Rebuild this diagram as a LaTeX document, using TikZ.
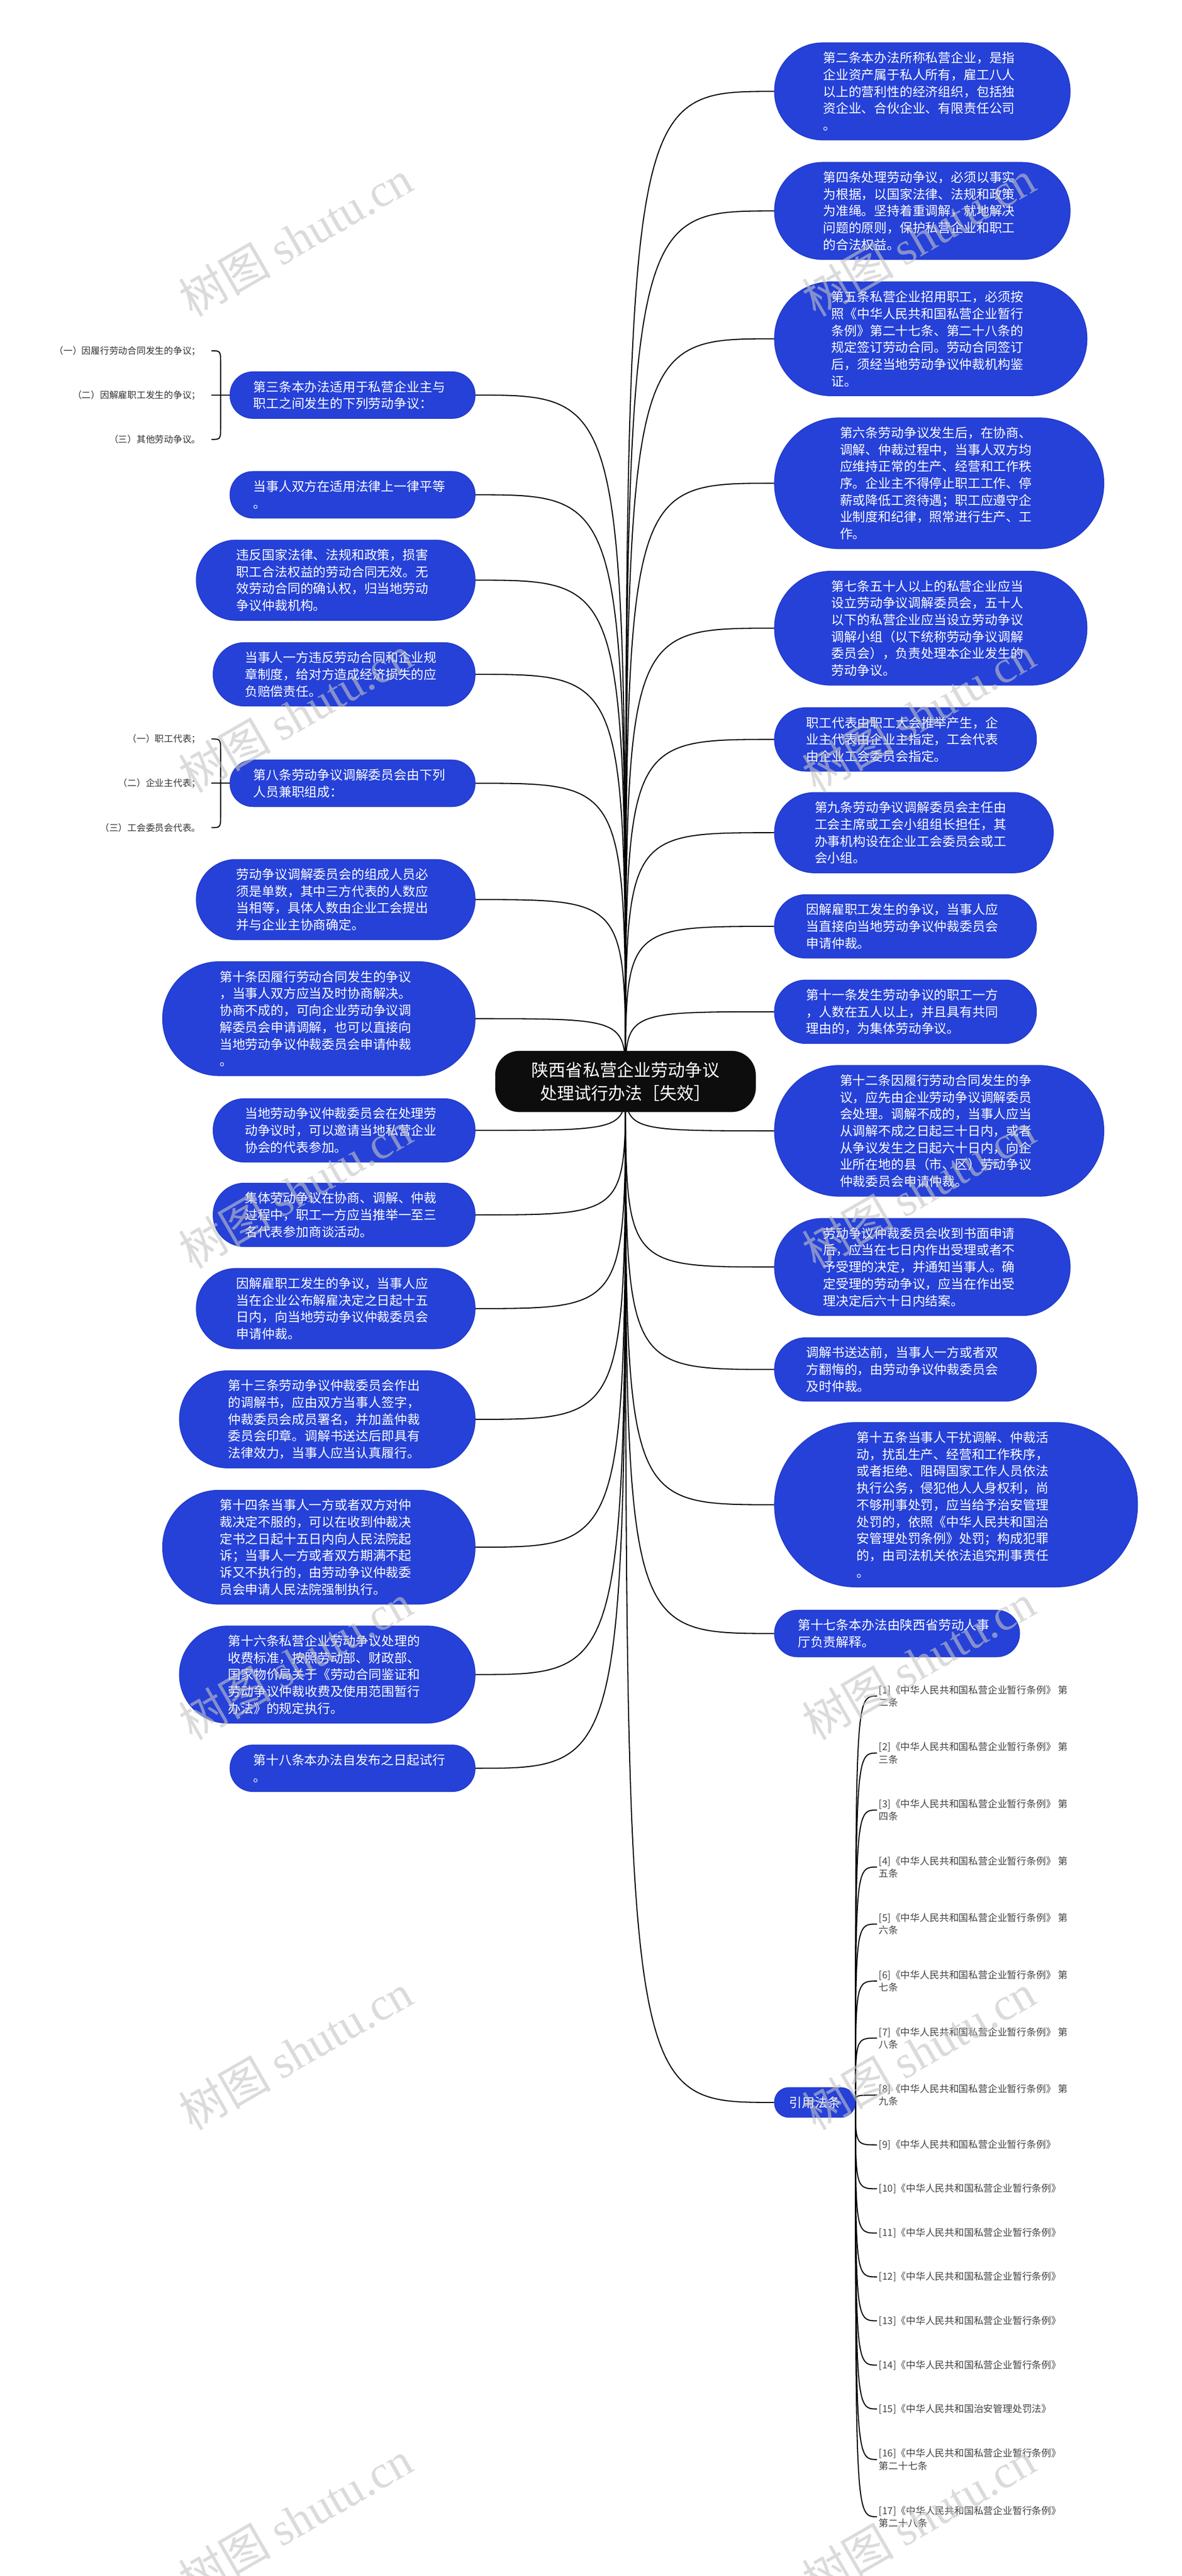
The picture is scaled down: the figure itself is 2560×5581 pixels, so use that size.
\documentclass[tikz,border=0pt]{standalone}
\usepackage{fontspec}
\newfontfamily\cjk{Noto Sans CJK SC}
\newfontfamily\wmserif{Liberation Serif}
\usetikzlibrary{backgrounds}
\definecolor{nodeblue}{HTML}{2541D8}
\definecolor{nodeedge}{HTML}{2038C8}
\definecolor{labelgray}{HTML}{333333}
\definecolor{citegray}{HTML}{444444}
\definecolor{wmgray}{HTML}{C4C4C4}
\tikzset{
  bx/.style={draw=nodeedge, line width=1.5pt, fill=nodeblue, text=white,
    font=\cjk\fontsize{27.7}{36.5}\selectfont, align=left, text width=430pt,
    minimum height={#1*36.5pt+28pt}, inner ysep=0pt,
    inner xsep={(#1*36.5pt+28pt)/2},
    rounded corners={(#1*36.5pt+28pt)/2-1pt}},
  rootbox/.style={fill=black!95, draw=black, text=white,
    font=\cjk\fontsize{37}{50}\selectfont, align=center,
    minimum width=564pt, minimum height=132pt, inner sep=0pt,
    rounded corners=52pt},
  citebox/.style={draw=nodeedge, line width=1.5pt, fill=nodeblue, text=white,
    font=\cjk\fontsize{27.7}{36.5}\selectfont, minimum height=64.5pt,
    inner ysep=0pt, inner xsep=32pt, rounded corners=31pt},
  lbl/.style={font=\cjk\fontsize{19.8}{24}\selectfont, text=labelgray,
    anchor=east, inner sep=0pt},
  citem/.style={font=\cjk\fontsize{21}{27}\selectfont, text=citegray,
    align=left, anchor=west, inner xsep=4pt, inner ysep=0pt},
  conn/.style={draw=black, line width=2.3pt},
  wm/.style={text=wmgray, text opacity=0.6, rotate=30, inner sep=0pt}
}
\begin{document}
\begin{tikzpicture}[x=1pt, y=-1pt]
\useasboundingbox (0,0) rectangle (2560,5581);

% root
\node[rootbox] (root) at (1355,2343) {陕西省私营企业劳动争议\\处理试行办法［失效］};

% right column
\node[bx=5, anchor=west] (r1) at (1677,198) {第二条本办法所称私营企业，是指\\企业资产属于私人所有，雇工八人\\以上的营利性的经济组织，包括独\\资企业、合伙企业、有限责任公司\\。};
\node[bx=5, anchor=west] (r2) at (1677,457) {第四条处理劳动争议，必须以事实\\为根据，以国家法律、法规和政策\\为准绳。坚持着重调解，就地解决\\问题的原则，保护私营企业和职工\\的合法权益。};
\node[bx=6, anchor=west] (r3) at (1677,734) {第五条私营企业招用职工，必须按\\照《中华人民共和国私营企业暂行\\条例》第二十七条、第二十八条的\\规定签订劳动合同。劳动合同签订\\后，须经当地劳动争议仲裁机构鉴\\证。};
\node[bx=7, anchor=west] (r4) at (1677,1047) {第六条劳动争议发生后，在协商、\\调解、仲裁过程中，当事人双方均\\应维持正常的生产、经营和工作秩\\序。企业主不得停止职工工作、停\\薪或降低工资待遇；职工应遵守企\\业制度和纪律，照常进行生产、工\\作。};
\node[bx=6, anchor=west] (r5) at (1677,1361) {第七条五十人以上的私营企业应当\\设立劳动争议调解委员会，五十人\\以下的私营企业应当设立劳动争议\\调解小组（以下统称劳动争议调解\\委员会），负责处理本企业发生的\\劳动争议。};
\node[bx=3, anchor=west] (r6) at (1677,1602) {职工代表由职工大会推举产生，企\\业主代表由企业主指定，工会代表\\由企业工会委员会指定。};
\node[bx=4, anchor=west] (r7) at (1677,1804) {第九条劳动争议调解委员会主任由\\工会主席或工会小组组长担任，其\\办事机构设在企业工会委员会或工\\会小组。};
\node[bx=3, anchor=west] (r8) at (1677,2007) {因解雇职工发生的争议，当事人应\\当直接向当地劳动争议仲裁委员会\\申请仲裁。};
\node[bx=3, anchor=west] (r9) at (1677,2192) {第十一条发生劳动争议的职工一方\\，人数在五人以上，并且具有共同\\理由的，为集体劳动争议。};
\node[bx=7, anchor=west] (r10) at (1677,2450) {第十二条因履行劳动合同发生的争\\议，应先由企业劳动争议调解委员\\会处理。调解不成的，当事人应当\\从调解不成之日起三十日内，或者\\从争议发生之日起六十日内，向企\\业所在地的县（市、区）劳动争议\\仲裁委员会申请仲裁。};
\node[bx=5, anchor=west] (r11) at (1677,2745) {劳动争议仲裁委员会收到书面申请\\后，应当在七日内作出受理或者不\\予受理的决定，并通知当事人。确\\定受理的劳动争议，应当在作出受\\理决定后六十日内结案。};
\node[bx=3, anchor=west] (r12) at (1677,2967) {调解书送达前，当事人一方或者双\\方翻悔的，由劳动争议仲裁委员会\\及时仲裁。};
\node[bx=9, anchor=west] (r13) at (1677,3260) {第十五条当事人干扰调解、仲裁活\\动，扰乱生产、经营和工作秩序，\\或者拒绝、阻碍国家工作人员依法\\执行公务，侵犯他人人身权利，尚\\不够刑事处罚，应当给予治安管理\\处罚的，依照《中华人民共和国治\\安管理处罚条例》处罚；构成犯罪\\的，由司法机关依法追究刑事责任\\。};
\node[bx=2, anchor=west] (r14) at (1677,3539) {第十七条本办法由陕西省劳动人事\\厅负责解释。};
\node[citebox, anchor=west] (cite) at (1677,4555) {引用法条};

% left column
\node[bx=2, anchor=east] (l1) at (1030,856) {第三条本办法适用于私营企业主与\\职工之间发生的下列劳动争议：};
\node[bx=2, anchor=east] (l2) at (1030,1072) {当事人双方在适用法律上一律平等\\。};
\node[bx=4, anchor=east] (l3) at (1030,1257) {违反国家法律、法规和政策，损害\\职工合法权益的劳动合同无效。无\\效劳动合同的确认权，归当地劳动\\争议仲裁机构。};
\node[bx=3, anchor=east] (l4) at (1030,1461) {当事人一方违反劳动合同和企业规\\章制度，给对方造成经济损失的应\\负赔偿责任。};
\node[bx=2, anchor=east] (l5) at (1030,1697) {第八条劳动争议调解委员会由下列\\人员兼职组成：};
\node[bx=4, anchor=east] (l6) at (1030,1949) {劳动争议调解委员会的组成人员必\\须是单数，其中三方代表的人数应\\当相等，具体人数由企业工会提出\\并与企业主协商确定。};
\node[bx=6, anchor=east] (l7) at (1030,2207) {第十条因履行劳动合同发生的争议\\，当事人双方应当及时协商解决。\\协商不成的，可向企业劳动争议调\\解委员会申请调解，也可以直接向\\当地劳动争议仲裁委员会申请仲裁\\。};
\node[bx=3, anchor=east] (l8) at (1030,2449) {当地劳动争议仲裁委员会在处理劳\\动争议时，可以邀请当地私营企业\\协会的代表参加。};
\node[bx=3, anchor=east] (l9) at (1030,2632) {集体劳动争议在协商、调解、仲裁\\过程中，职工一方应当推举一至三\\名代表参加商谈活动。};
\node[bx=4, anchor=east] (l10) at (1030,2835) {因解雇职工发生的争议，当事人应\\当在企业公布解雇决定之日起十五\\日内，向当地劳动争议仲裁委员会\\申请仲裁。};
\node[bx=5, anchor=east] (l11) at (1030,3075) {第十三条劳动争议仲裁委员会作出\\的调解书，应由双方当事人签字，\\仲裁委员会成员署名，并加盖仲裁\\委员会印章。调解书送达后即具有\\法律效力，当事人应当认真履行。};
\node[bx=6, anchor=east] (l12) at (1030,3352) {第十四条当事人一方或者双方对仲\\裁决定不服的，可以在收到仲裁决\\定书之日起十五日内向人民法院起\\诉；当事人一方或者双方期满不起\\诉又不执行的，由劳动争议仲裁委\\员会申请人民法院强制执行。};
\node[bx=5, anchor=east] (l13) at (1030,3628) {第十六条私营企业劳动争议处理的\\收费标准，按照劳动部、财政部、\\国家物价局关于《劳动合同鉴证和\\劳动争议仲裁收费及使用范围暂行\\办法》的规定执行。};
\node[bx=2, anchor=east] (l14) at (1030,3831) {第十八条本办法自发布之日起试行\\。};

% sub-items of l1 and l5
\node[lbl] (c11) at (435,760) {（一）因履行劳动合同发生的争议；};
\node[lbl] (c12) at (435,856) {（二）因解雇职工发生的争议；};
\node[lbl] (c13) at (435,952) {（三）其他劳动争议。};
\node[lbl] (c51) at (435,1601) {（一）职工代表；};
\node[lbl] (c52) at (435,1697) {（二）企业主代表；};
\node[lbl] (c53) at (435,1793) {（三）工会委员会代表。};

% citations
\node[citem] (q1) at (1900,3674.5) {[1]《中华人民共和国私营企业暂行条例》 第\\二条};
\node[citem] (q2) at (1900,3798) {[2]《中华人民共和国私营企业暂行条例》 第\\三条};
\node[citem] (q3) at (1900,3921.5) {[3]《中华人民共和国私营企业暂行条例》 第\\四条};
\node[citem] (q4) at (1900,4045) {[4]《中华人民共和国私营企业暂行条例》 第\\五条};
\node[citem] (q5) at (1900,4168.5) {[5]《中华人民共和国私营企业暂行条例》 第\\六条};
\node[citem] (q6) at (1900,4292) {[6]《中华人民共和国私营企业暂行条例》 第\\七条};
\node[citem] (q7) at (1900,4415.5) {[7]《中华人民共和国私营企业暂行条例》 第\\八条};
\node[citem] (q8) at (1900,4539) {[8]《中华人民共和国私营企业暂行条例》 第\\九条};
\node[citem] (q9) at (1900,4647) {[9]《中华人民共和国私营企业暂行条例》};
\node[citem] (q10) at (1900,4742) {[10]《中华人民共和国私营企业暂行条例》};
\node[citem] (q11) at (1900,4838) {[11]《中华人民共和国私营企业暂行条例》};
\node[citem] (q12) at (1900,4933) {[12]《中华人民共和国私营企业暂行条例》};
\node[citem] (q13) at (1900,5028) {[13]《中华人民共和国私营企业暂行条例》};
\node[citem] (q14) at (1900,5124) {[14]《中华人民共和国私营企业暂行条例》};
\node[citem] (q15) at (1900,5219) {[15]《中华人民共和国治安管理处罚法》};
\node[citem] (q16) at (1900,5328.5) {[16]《中华人民共和国私营企业暂行条例》\\第二十七条};
\node[citem] (q17) at (1900,5452.5) {[17]《中华人民共和国私营企业暂行条例》\\第二十八条};

% white page and connectors, behind the nodes
\begin{scope}[on background layer]
\fill[white] (0,0) rectangle (2560,5581);
\foreach \n in {r1,r2,r3,r4,r5,r6,r7,r8,r9,r10,r11,r12,r13,r14,cite}
  \draw[conn] (root.center) .. controls (root.center |- \n.west) .. (\n.west);
\foreach \n in {l1,l2,l3,l4,l5,l6,l7,l8,l9,l10,l11,l12,l13,l14}
  \draw[conn] (root.center) .. controls (root.center |- \n.east) .. (\n.east);
\foreach \n in {q1,q2,q3,q4,q5,q6,q7,q8,q9,q10,q11,q12,q13,q14,q15,q16,q17}
  \draw[conn] (cite.east) .. controls (cite.east |- \n.west) .. (\n.west);
\end{scope}

% braces
\draw[conn] (l1.west) -- ([xshift=23pt]c12.east);
\draw[conn] ([xshift=23pt]c11.east) .. controls (478,760) .. (478,790) -- (478,922) .. controls (478,952) .. ([xshift=23pt]c13.east);
\draw[conn] (l5.west) -- ([xshift=23pt]c52.east);
\draw[conn] ([xshift=23pt]c51.east) .. controls (478,1601) .. (478,1631) -- (478,1763) .. controls (478,1793) .. ([xshift=23pt]c53.east);

% watermarks
\foreach \x/\y [count=\k] in {640/516, 1990/516, 640/1547, 1990/1547, 640/2578, 1990/2578, 640/3600, 1990/3600, 640/4445, 1990/4445, 640/5458, 1990/5458}
  \node[wm] (wm\k) at (\x,\y) {\cjk\fontsize{100}{100}\selectfont 树图 \wmserif shutu.cn};
\end{tikzpicture}
\end{document}
